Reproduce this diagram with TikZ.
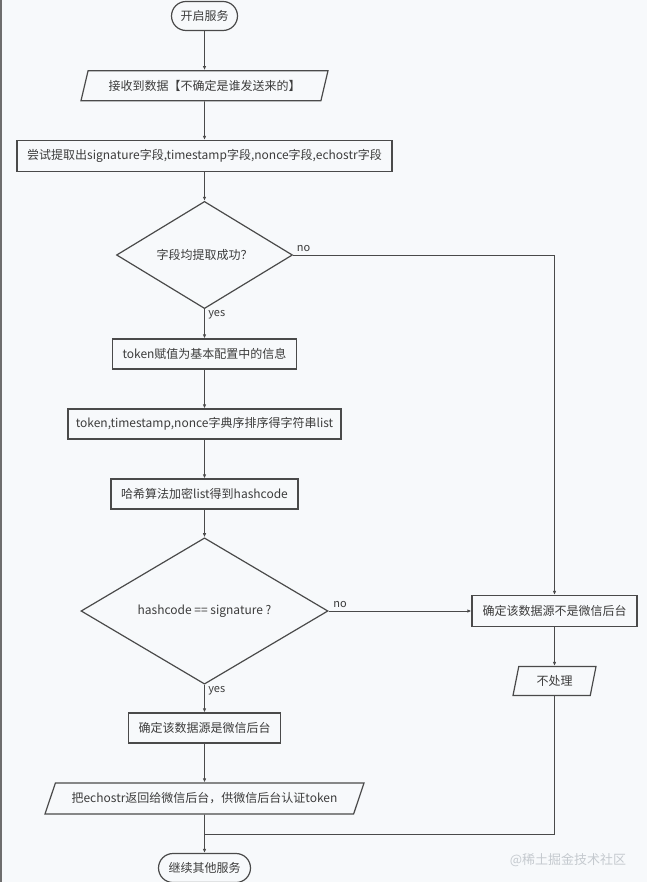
\documentclass[tikz,border=0pt]{standalone}
\usepackage{fontspec}
\setmainfont{Noto Sans CJK SC}
\usetikzlibrary{positioning,arrows.meta,shapes.geometric}
\definecolor{bgcol}{HTML}{F7F9FB}
\definecolor{inkcol}{HTML}{4A4A4A}
\definecolor{txtcol}{HTML}{3C3C3C}
\definecolor{markcol}{HTML}{C5CACF}

\begin{document}
\begin{tikzpicture}[x=1pt,y=-1pt,>={Latex[length=4pt,width=3.5pt]},
  every node/.style={font=\fontsize{12}{14}\selectfont,text=txtcol},
  box/.style={draw=inkcol,line width=1.2pt,minimum height=30pt,inner sep=2pt},
  term/.style={box,rounded corners=14.5pt,minimum height=29pt},
  io/.style={box,trapezium,trapezium stretches body},
  choice/.style={draw=inkcol,line width=1.2pt,diamond,inner sep=0pt},
  link/.style={draw=inkcol,line width=0.9pt},
  tag/.style={font=\fontsize{11}{13}\selectfont}]
  \useasboundingbox (0,0) rectangle (647,882);
  \fill[bgcol] (0,0) rectangle (647,882);
  \draw[inkcol!80,line width=1.5pt] (0.75,0) -- (0.75,882);

  % left column
  \node[term,minimum width=66pt] (start) at (204.5,16) {开启服务};
  \node[io,trapezium left angle=65,trapezium right angle=115,minimum width=247pt] (recv) at (204.5,85.7) {接收到数据【不确定是谁发送来的】};
  \node[box,minimum width=375pt,minimum height=31pt] (parse) at (204.5,156) {尝试提取出signature字段,timestamp字段,nonce字段,echostr字段};
  \node[choice,minimum width=176pt,minimum height=87pt] (check) at (204.5,255) {字段均提取成功？};
  \node[box,minimum width=184pt] (token) at (204.5,354) {token赋值为基本配置中的信息};
  \node[box,minimum width=273pt] (sort) at (204.5,424) {token,timestamp,nonce字典序排序得字符串list};
  \node[box,minimum width=187pt] (hash) at (204.5,494) {哈希算法加密list得到hashcode};
  \node[choice,minimum width=247pt,minimum height=123pt] (verify) at (204.5,611) {hashcode == signature ?};
  \node[box,minimum width=152pt] (accept) at (204.5,728) {确定该数据源是微信后台};
  \node[io,trapezium left angle=56,trapezium right angle=124,minimum width=319pt,minimum height=31pt] (reply) at (204.5,798.5) {把echostr返回给微信后台，供微信后台认证token};
  \node[term,minimum width=92pt] (next) at (204.5,868) {继续其他服务};
  \coordinate (merge) at (204.5,834);

  % right column
  \node[box,minimum width=165pt,minimum height=31pt] (reject) at (554.5,611) {确定该数据源不是微信后台};
  \node[io,trapezium left angle=69,trapezium right angle=111,minimum width=83pt,minimum height=29pt] (skip) at (554.5,681) {不处理};

  \node[text=markcol,font=\fontsize{13}{15}\selectfont] (mark) at (568,860) {@稀土掘金技术社区};

  \draw[link,->] (start) -- (recv);
  \draw[link,->] (recv) -- (parse);
  \draw[link,->] (parse) -- (check);
  \draw[link,->] (check) -- node[tag,right,pos=0.2]{yes} (token);
  \draw[link,->] (check.east) -| node[tag,above,pos=0.02]{no} (reject.north);
  \draw[link,->] (token) -- (sort);
  \draw[link,->] (sort) -- (hash);
  \draw[link,->] (hash) -- (verify);
  \draw[link,->] (verify.east) -- node[tag,above,pos=0.08]{no} (reject.west);
  \draw[link,->] (verify) -- node[tag,right,pos=0.2]{yes} (accept);
  \draw[link,->] (accept) -- (reply);
  \draw[link,->] (reply) -- (next);
  \draw[link,->] (reject) -- (skip);
  \draw[link] (skip.south) |- (merge);
\end{tikzpicture}
\end{document}
